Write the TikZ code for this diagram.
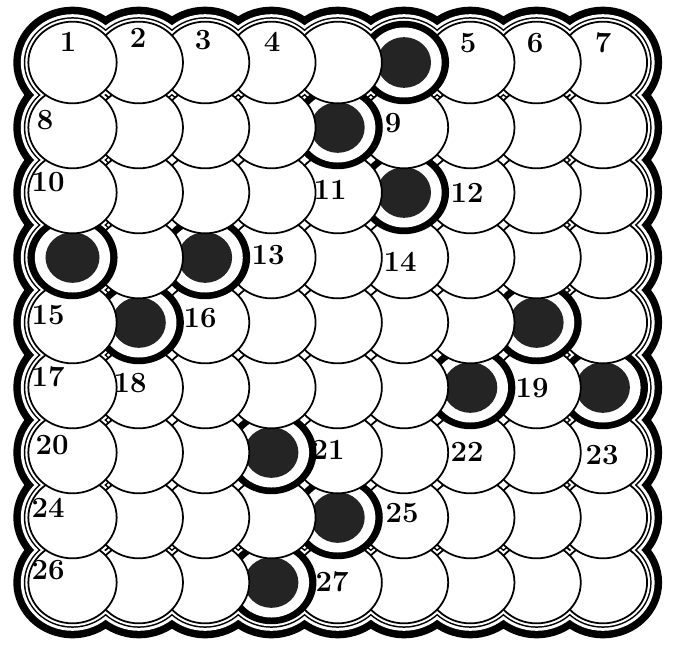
\documentclass[tikz,border=0pt]{standalone}
\usetikzlibrary{shapes.geometric}

% cells that are blacked out
\foreach \h in {6-1,5-2,6-3,1-4,3-4,2-5,8-5,7-6,9-6,4-7,5-8,4-9}{%
  \expandafter\gdef\csname hole-\h\endcsname{}}

\begin{document}
\begin{tikzpicture}[
  x=0.03cm, y=-0.03cm,
  cell/.style={ellipse,draw=black,line width=1.5pt,fill=white,minimum width=2.65cm,minimum height=2.45cm,inner sep=0pt,outer sep=0pt},
  hole/.style={cell,fill=black,path picture={
      \fill[white] (path picture bounding box.center) ellipse [x radius=1.13cm,y radius=1.05cm];
      \fill[black!86] (path picture bounding box.center) ellipse [x radius=0.81cm,y radius=0.76cm];}},
  num/.style={font=\fontsize{25}{25}\selectfont\bfseries,inner sep=0pt}
]
  \useasboundingbox[fill=white] (0,0) rectangle (674,646);

  % scalloped rim round the outer cells: thick line, gap, thin line, gap
  \foreach \d/\col in {15/black,7.5/white,4.5/black,3/white}{
    \pgfmathsetmacro\rx{(44.2+\d)*0.03}
    \pgfmathsetmacro\ry{(40.8+\d)*0.03}
    \foreach \i in {1,...,9}
      \foreach \j in {1,...,9}{
        \pgfmathparse{or(or(\i==1,\i==9),or(\j==1,\j==9))}
        \ifnum\pgfmathresult=1
          \fill[\col] ({72.5+(\i-1)*66.3},{62.5+(\j-1)*65}) ellipse [x radius=\rx cm,y radius=\ry cm];
        \fi
      }
  }

  % the cells, upper left ones on top
  \foreach \j in {9,...,1}{
    \foreach \i in {9,...,1}{
      \ifcsname hole-\i-\j\endcsname \def\kind{hole}\else \def\kind{cell}\fi
      \node[\kind] (cell-\i-\j) at ({72.5+(\i-1)*66.3},{62.5+(\j-1)*65}) {};
    }
  }

  % numbers
  \foreach \n/\x/\y in {1/68/42,2/138/38,3/203/40,4/272/42,5/468/43,6/535/43,7/603/43,
      8/45/120,9/393/123,10/48/182,11/330/190,12/467/193,13/268/255,14/400/262,
      15/48/315,16/200/318,17/48/377,18/130/383,19/532/388,20/52/445,21/328/450,
      22/467/452,23/602/455,24/48/508,25/402/513,26/48/570,27/332/582}
    \node[num] (num-\n) at (\x,\y) {\n};
\end{tikzpicture}
\end{document}
